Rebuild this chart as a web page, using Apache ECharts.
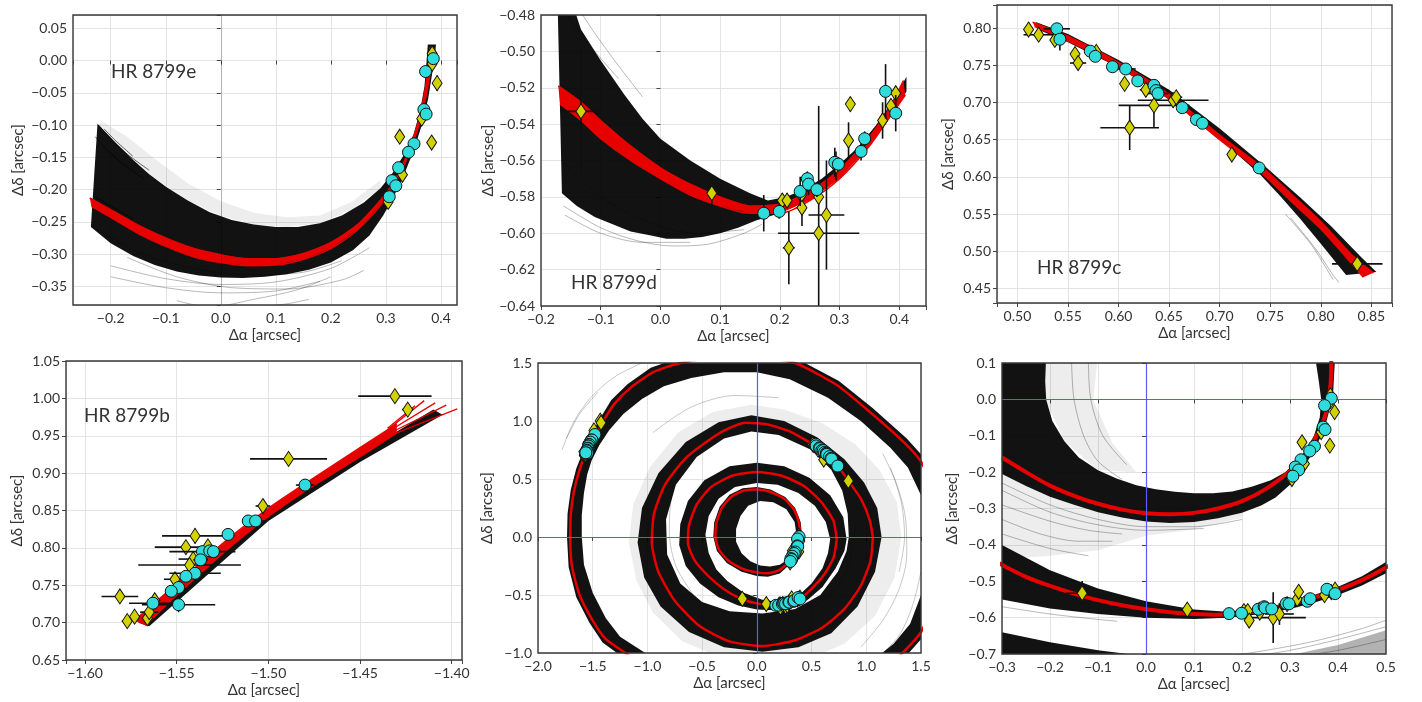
<!DOCTYPE html>
<html><head><meta charset="utf-8">
<script src="https://cdn.jsdelivr.net/npm/echarts@6/dist/echarts.min.js"></script>
<style>html,body{margin:0;padding:0;background:#fff}#c{width:1422px;height:702px}</style>
</head><body><div id="c"></div><script>
// ================= DATA =================
// measurements: [dRA, dDec, errRA, errDec]
const eCyan = [[0.386,0.003,0.004,0.004],[0.372,-0.017,0.008,0.003],[0.369,-0.076,0.003,0.003],[0.373,-0.083,0.003,0.003],[0.351,-0.129,0.004,0.004],[0.341,-0.142,0.008,0.004],[0.323,-0.166,0.003,0.004],[0.311,-0.186,0.003,0.003],[0.318,-0.194,0.003,0.003],[0.306,-0.211,0.003,0.003]];
const eYellow = [[0.384,0.011,0.003,0.005],[0.384,-0.005,0.003,0.005],[0.393,-0.035,0.003,0.012],[0.365,-0.090,0.003,0.004],[0.325,-0.118,0.006,0.008],[0.383,-0.127,0.005,0.006],[0.330,-0.177,0.004,0.005],[0.304,-0.219,0.003,0.004]];
const dCyan = [[0.173,-0.589,0.003,0.010],[0.199,-0.588,0.003,0.004],[0.234,-0.577,0.003,0.008],[0.246,-0.570,0.003,0.004],[0.248,-0.573,0.003,0.006],[0.262,-0.576,0.003,0.004],[0.292,-0.561,0.003,0.008],[0.298,-0.562,0.003,0.004],[0.336,-0.555,0.003,0.005],[0.342,-0.548,0.003,0.004],[0.377,-0.522,0.008,0.015],[0.394,-0.534,0.003,0.010]];
const dYellow = [[-0.133,-0.533,0.034,0.034],[0.086,-0.578,0.003,0.010],[0.204,-0.582,0.003,0.004],[0.212,-0.582,0.003,0.004],[0.215,-0.608,0.010,0.020],[0.236,-0.579,0.003,0.005],[0.237,-0.586,0.003,0.010],[0.265,-0.580,0.003,0.004],[0.265,-0.600,0.068,0.070],[0.278,-0.590,0.030,0.030],[0.294,-0.563,0.003,0.008],[0.315,-0.549,0.003,0.010],[0.318,-0.529,0.003,0.004],[0.372,-0.538,0.003,0.010],[0.386,-0.530,0.003,0.004],[0.394,-0.523,0.003,0.004]];
const cCyan = [[0.539,0.799,0.013,0.005],[0.542,0.785,0.004,0.015],[0.572,0.769,0.003,0.003],[0.577,0.762,0.003,0.003],[0.594,0.748,0.003,0.003],[0.607,0.745,0.010,0.004],[0.619,0.729,0.003,0.003],[0.635,0.723,0.003,0.004],[0.637,0.716,0.003,0.004],[0.639,0.712,0.010,0.004],[0.663,0.693,0.003,0.003],[0.677,0.677,0.003,0.003],[0.683,0.672,0.003,0.003],[0.739,0.612,0.003,0.003]];
const cYellow = [[0.511,0.798,0.003,0.004],[0.521,0.791,0.015,0.004],[0.537,0.784,0.004,0.004],[0.557,0.765,0.004,0.010],[0.560,0.753,0.008,0.004],[0.578,0.768,0.004,0.004],[0.606,0.725,0.003,0.004],[0.627,0.717,0.006,0.006],[0.635,0.696,0.035,0.030],[0.611,0.666,0.029,0.030],[0.654,0.703,0.035,0.010],[0.657,0.707,0.006,0.006],[0.712,0.630,0.003,0.004],[0.836,0.483,0.025,0.012]];
const bCyan = [[-1.480,0.884,0.005,0.003],[-1.511,0.836,0.003,0.003],[-1.507,0.836,0.006,0.003],[-1.522,0.818,0.003,0.003],[-1.536,0.795,0.018,0.004],[-1.532,0.796,0.003,0.003],[-1.530,0.795,0.004,0.003],[-1.537,0.784,0.004,0.004],[-1.540,0.766,0.014,0.008],[-1.545,0.762,0.003,0.003],[-1.549,0.747,0.003,0.003],[-1.553,0.742,0.003,0.003],[-1.549,0.724,0.020,0.010],[-1.563,0.726,0.013,0.004]];
const bYellow = [[-1.431,1.003,0.020,0.008],[-1.424,0.985,0.003,0.003],[-1.489,0.919,0.021,0.008],[-1.503,0.856,0.004,0.004],[-1.540,0.816,0.018,0.010],[-1.545,0.801,0.017,0.004],[-1.533,0.802,0.003,0.003],[-1.541,0.785,0.008,0.004],[-1.543,0.777,0.028,0.008],[-1.551,0.758,0.006,0.004],[-1.581,0.735,0.010,0.004],[-1.577,0.702,0.003,0.003],[-1.573,0.708,0.003,0.003],[-1.566,0.706,0.003,0.004],[-1.565,0.714,0.005,0.003],[-1.562,0.730,0.003,0.003]];

// ---- panel 1 (HR 8799e) orbit curves ----
const eBandUp = [[-0.224,-0.098],[-0.19,-0.128],[-0.159,-0.154],[-0.13,-0.176],[-0.099,-0.196],[-0.06,-0.217],[-0.02,-0.235],[0.02,-0.247],[0.06,-0.254],[0.10,-0.258],[0.14,-0.258],[0.18,-0.252],[0.22,-0.240],[0.26,-0.220],[0.29,-0.198],[0.31,-0.177],[0.33,-0.150],[0.35,-0.115],[0.362,-0.078],[0.370,-0.040],[0.374,0.000],[0.376,0.025]];
const eBandLo = [[-0.236,-0.258],[-0.2,-0.283],[-0.159,-0.303],[-0.12,-0.317],[-0.08,-0.327],[-0.04,-0.333],[0.0,-0.336],[0.04,-0.337],[0.08,-0.335],[0.12,-0.331],[0.16,-0.324],[0.20,-0.313],[0.24,-0.294],[0.27,-0.271],[0.295,-0.240],[0.312,-0.214],[0.33,-0.183],[0.35,-0.140],[0.366,-0.098],[0.377,-0.058],[0.384,-0.020],[0.388,0.000],[0.391,0.025]];
const eHaloUp = [[-0.212,-0.096],[-0.17,-0.118],[-0.12,-0.152],[-0.06,-0.19],[0.0,-0.218],[0.06,-0.236],[0.12,-0.243],[0.18,-0.240],[0.24,-0.218],[0.29,-0.185]];
const eHaloLo = [[-0.224,-0.098],[-0.19,-0.128],[-0.13,-0.176],[-0.06,-0.217],[0.0,-0.241],[0.06,-0.254],[0.12,-0.258],[0.18,-0.252],[0.24,-0.230],[0.29,-0.198]];
const eRedA = [[-0.238,-0.213],[-0.2,-0.231],[-0.15,-0.255],[-0.1,-0.275],[-0.05,-0.291],[0,-0.301],[0.05,-0.307],[0.1,-0.307],[0.15,-0.299],[0.2,-0.282],[0.25,-0.253],[0.3,-0.206],[0.325,-0.171],[0.345,-0.131],[0.36,-0.091],[0.37,-0.051],[0.377,-0.011],[0.38,0.020]];
const eRedB = [[-0.235,-0.226],[-0.2,-0.243],[-0.15,-0.268],[-0.1,-0.288],[-0.05,-0.304],[0,-0.313],[0.05,-0.318],[0.1,-0.317],[0.15,-0.308],[0.2,-0.291],[0.25,-0.261],[0.3,-0.214],[0.325,-0.177],[0.345,-0.137],[0.362,-0.094],[0.374,-0.050],[0.382,-0.010],[0.387,0.020]];
const eGrey = [
 [[-0.225,-0.26],[-0.15,-0.297],[-0.05,-0.322],[0.05,-0.332],[0.15,-0.328],[0.22,-0.31]],
 [[-0.2,-0.318],[-0.1,-0.338],[0.0,-0.347],[0.1,-0.343],[0.2,-0.322],[0.27,-0.29]],
 [[-0.2,-0.335],[-0.1,-0.352],[0.0,-0.36],[0.1,-0.357],[0.18,-0.342]],
 [[-0.17,-0.305],[-0.08,-0.335],[0.02,-0.352],[0.12,-0.354],[0.22,-0.34],[0.26,-0.325]],
 [[-0.08,-0.372],[-0.02,-0.382],[0.06,-0.37],[0.14,-0.355],[0.2,-0.335]],
 [[0.0,-0.39],[0.06,-0.383],[0.12,-0.377],[0.16,-0.37]]
];
const eFringe = [
 [[-0.222,-0.100],[-0.2,-0.121],[-0.17,-0.145],[-0.13,-0.17]],
 [[-0.212,-0.106],[-0.19,-0.125],[-0.16,-0.148]],
 [[-0.228,-0.118],[-0.205,-0.14],[-0.175,-0.162],[-0.14,-0.183]],
 [[-0.232,-0.21],[-0.2,-0.225],[-0.16,-0.245]]
];
// ---- panel 2 (HR 8799d) ----
const dBandUp = [[-0.172,-0.476],[-0.145,-0.476],[-0.133,-0.488],[-0.1,-0.505],[-0.06,-0.524],[-0.03,-0.537],[0.0,-0.548],[0.05,-0.560],[0.1,-0.570],[0.15,-0.578],[0.18,-0.582],[0.21,-0.580],[0.24,-0.576],[0.27,-0.570],[0.30,-0.562],[0.33,-0.553],[0.36,-0.541],[0.39,-0.527],[0.412,-0.514]];
const dBandLo = [[-0.165,-0.578],[-0.14,-0.585],[-0.11,-0.591],[-0.08,-0.595],[-0.05,-0.599],[-0.02,-0.601],[0.01,-0.603],[0.04,-0.603],[0.07,-0.602],[0.10,-0.600],[0.13,-0.597],[0.16,-0.593],[0.19,-0.590],[0.22,-0.586],[0.25,-0.580],[0.28,-0.573],[0.31,-0.565],[0.34,-0.555],[0.37,-0.543],[0.39,-0.533],[0.412,-0.522]];
const dRedA = [[-0.171,-0.519],[-0.133,-0.528],[-0.1,-0.538],[-0.05,-0.552],[0.0,-0.564],[0.05,-0.573],[0.1,-0.580],[0.15,-0.585],[0.2,-0.584],[0.25,-0.577],[0.3,-0.565],[0.35,-0.547],[0.38,-0.533],[0.407,-0.516]];
const dRedB = [[-0.168,-0.529],[-0.133,-0.538],[-0.1,-0.548],[-0.05,-0.560],[0.0,-0.570],[0.05,-0.579],[0.1,-0.585],[0.15,-0.589],[0.2,-0.589],[0.25,-0.582],[0.3,-0.570],[0.35,-0.552],[0.38,-0.538],[0.41,-0.524]];
const dGrey = [
 [[-0.175,-0.47],[-0.15,-0.483],[-0.11,-0.5],[-0.07,-0.515]],
 [[-0.14,-0.475],[-0.11,-0.49],[-0.07,-0.508],[-0.03,-0.525]],
 [[-0.162,-0.585],[-0.1,-0.597],[-0.04,-0.604],[0.02,-0.607],[0.08,-0.606],[0.14,-0.6],[0.17,-0.595]],
 [[-0.16,-0.59],[-0.1,-0.6],[-0.03,-0.605],[0.05,-0.605]],
 [[-0.165,-0.56],[-0.1,-0.58],[-0.02,-0.594],[0.06,-0.6],[0.14,-0.598]]
];
// ---- panel 3 (HR 8799c) ----
const cBandUp = [[0.518,0.808],[0.55,0.792],[0.6,0.757],[0.65,0.717],[0.7,0.665],[0.745,0.614],[0.78,0.572],[0.81,0.534],[0.84,0.492],[0.855,0.472]];
const cBandLo = [[0.522,0.797],[0.55,0.781],[0.6,0.747],[0.65,0.704],[0.7,0.651],[0.74,0.603],[0.76,0.574],[0.78,0.543],[0.80,0.51],[0.815,0.485],[0.825,0.468]];
const cRedA = [[0.515,0.808],[0.55,0.789],[0.6,0.754],[0.65,0.711],[0.7,0.656],[0.74,0.615],[0.77,0.578],[0.8,0.54],[0.83,0.496],[0.852,0.471]];
const cRedB = [[0.517,0.802],[0.55,0.783],[0.6,0.748],[0.65,0.705],[0.7,0.650],[0.74,0.607],[0.77,0.568],[0.8,0.530],[0.825,0.492],[0.842,0.465]];
const cGrey = [
 [[0.77,0.545],[0.795,0.503],[0.812,0.468],[0.818,0.458]],
 [[0.765,0.55],[0.79,0.51],[0.805,0.478],[0.812,0.462]]
];
// ---- panel 4 (HR 8799b) ----
const bBandUp = [[-1.571,0.700],[-1.5,0.848],[-1.45,0.926],[-1.41,0.985]];
const bBandLo = [[-1.565,0.695],[-1.5,0.836],[-1.45,0.915],[-1.405,0.978]];
const bRedA = [[-1.573,0.703],[-1.55,0.752],[-1.52,0.816],[-1.50,0.853],[-1.48,0.886],[-1.45,0.934],[-1.43,0.966]];
const bRedB = [[-1.567,0.696],[-1.55,0.737],[-1.52,0.803],[-1.50,0.842],[-1.48,0.876],[-1.45,0.922],[-1.43,0.954]];
const bRedTips = [
 [[-1.435,0.958],[-1.415,0.997]],
 [[-1.435,0.955],[-1.409,0.994]],
 [[-1.435,0.952],[-1.403,0.991]],
 [[-1.435,0.949],[-1.397,0.986]],
 [[-1.435,0.960],[-1.42,0.99]]
];
// ---- panel 5 (all orbits) closed loops ----
const e5Red = [[0.395,0.0],[0.385,0.12],[0.34,0.235],[0.25,0.33],[0.12,0.39],[0.0,0.41],[-0.12,0.40],[-0.23,0.35],[-0.32,0.25],[-0.37,0.12],[-0.378,0.0],[-0.345,-0.11],[-0.26,-0.205],[-0.13,-0.275],[0.0,-0.305],[0.1,-0.313],[0.2,-0.288],[0.3,-0.21],[0.36,-0.1],[0.395,0.0]];
const e5Out = [[0.415,0.0],[0.40,0.13],[0.35,0.25],[0.26,0.345],[0.125,0.41],[0.0,0.43],[-0.13,0.42],[-0.25,0.365],[-0.34,0.26],[-0.39,0.125],[-0.398,0.0],[-0.365,-0.12],[-0.275,-0.225],[-0.14,-0.3],[0.0,-0.337],[0.1,-0.342],[0.21,-0.315],[0.315,-0.225],[0.38,-0.1],[0.415,0.0]];
const e5In = [[0.365,0.0],[0.345,0.13],[0.27,0.24],[0.15,0.3],[0.03,0.31],[-0.08,0.27],[-0.15,0.18],[-0.19,0.07],[-0.19,-0.04],[-0.14,-0.14],[-0.06,-0.21],[0.03,-0.245],[0.12,-0.255],[0.21,-0.24],[0.29,-0.19],[0.34,-0.1],[0.365,0.0]];
const d5Red = [[0.73,-0.02],[0.70,0.14],[0.59,0.30],[0.43,0.44],[0.22,0.53],[0.0,0.56],[-0.22,0.53],[-0.42,0.43],[-0.55,0.28],[-0.62,0.10],[-0.63,-0.05],[-0.57,-0.20],[-0.45,-0.33],[-0.30,-0.45],[-0.15,-0.53],[0.0,-0.572],[0.17,-0.589],[0.3,-0.56],[0.4,-0.525],[0.49,-0.455],[0.61,-0.33],[0.70,-0.18],[0.73,-0.02]];
const d5Out = [[0.82,-0.02],[0.79,0.17],[0.67,0.36],[0.48,0.51],[0.25,0.61],[0.0,0.64],[-0.25,0.61],[-0.48,0.49],[-0.63,0.31],[-0.70,0.11],[-0.71,-0.07],[-0.65,-0.25],[-0.52,-0.40],[-0.35,-0.52],[-0.17,-0.59],[0.0,-0.625],[0.17,-0.632],[0.32,-0.605],[0.46,-0.545],[0.6,-0.43],[0.72,-0.27],[0.80,-0.12],[0.82,-0.02]];
const d5In = [[0.67,-0.02],[0.63,0.13],[0.53,0.27],[0.38,0.38],[0.19,0.45],[0.0,0.465],[-0.2,0.43],[-0.35,0.33],[-0.44,0.18],[-0.47,0.02],[-0.44,-0.14],[-0.37,-0.28],[-0.27,-0.38],[-0.12,-0.48],[0.05,-0.54],[0.2,-0.56],[0.3,-0.54],[0.4,-0.49],[0.5,-0.4],[0.6,-0.27],[0.65,-0.14],[0.67,-0.02]];
const c5Red = [[1.06,0.0],[1.03,0.15],[0.95,0.33],[0.84,0.48],[0.74,0.61],[0.6,0.75],[0.51,0.80],[0.3,0.91],[0.1,0.97],[-0.1,0.985],[-0.25,0.94],[-0.4,0.86],[-0.65,0.68],[-0.84,0.45],[-0.94,0.2],[-0.96,-0.05],[-0.9,-0.3],[-0.75,-0.55],[-0.52,-0.77],[-0.25,-0.9],[0.05,-0.94],[0.35,-0.89],[0.6,-0.78],[0.8,-0.62],[0.95,-0.42],[1.04,-0.2],[1.06,0.0]];
const c5Out = [[1.14,0.0],[1.1,0.25],[0.98,0.47],[0.8,0.67],[0.55,0.86],[0.25,1.0],[-0.05,1.05],[-0.35,0.99],[-0.65,0.82],[-0.9,0.55],[-1.05,0.25],[-1.09,-0.05],[-1.03,-0.35],[-0.88,-0.6],[-0.62,-0.82],[-0.3,-0.95],[0.05,-0.99],[0.38,-0.95],[0.68,-0.83],[0.92,-0.6],[1.08,-0.3],[1.14,0.0]];
const c5In = [[0.84,0.0],[0.83,0.2],[0.78,0.4],[0.68,0.58],[0.5,0.75],[0.2,0.88],[-0.05,0.91],[-0.3,0.85],[-0.55,0.69],[-0.74,0.45],[-0.83,0.15],[-0.82,-0.15],[-0.7,-0.4],[-0.5,-0.56],[-0.25,-0.64],[0.05,-0.66],[0.35,-0.62],[0.58,-0.5],[0.74,-0.3],[0.82,-0.12],[0.84,0.0]];
const c5Halo = [[1.32,0.0],[1.28,0.3],[1.12,0.58],[0.9,0.8],[0.6,0.98],[0.25,1.1],[-0.05,1.14],[-0.4,1.08],[-0.72,0.9],[-0.98,0.6],[-1.13,0.28],[-1.17,-0.05],[-1.1,-0.38],[-0.95,-0.65],[-0.68,-0.9],[-0.3,-1.05],[0.05,-1.1],[0.45,-1.06],[0.8,-0.92],[1.08,-0.68],[1.26,-0.35],[1.32,0.0]];
const b5Red = [[1.71,-0.15],[1.70,0.12],[1.62,0.4],[1.5,0.65],[1.34,0.82],[1.03,1.08],[0.73,1.31],[0.35,1.5],[0.0,1.55],[-0.35,1.55],[-0.7,1.5],[-0.95,1.42],[-1.15,1.29],[-1.3,1.15],[-1.41,0.99],[-1.49,0.85],[-1.571,0.70],[-1.62,0.58],[-1.67,0.4],[-1.70,0.2],[-1.705,0.0],[-1.69,-0.25],[-1.62,-0.5],[-1.5,-0.72],[-1.38,-0.88],[-1.2,-1.0],[-0.9,-1.2],[-0.5,-1.38],[0.0,-1.45],[0.5,-1.4],[0.9,-1.27],[1.15,-1.13],[1.33,-1.0],[1.5,-0.82],[1.64,-0.5],[1.71,-0.15]];
const b5Out = [[1.75,-0.15],[1.74,0.13],[1.66,0.42],[1.54,0.67],[1.37,0.85],[1.06,1.11],[0.75,1.345],[0.36,1.54],[0.0,1.6],[-0.36,1.6],[-0.72,1.54],[-0.97,1.46],[-1.18,1.32],[-1.33,1.18],[-1.44,1.01],[-1.52,0.87],[-1.6,0.71],[-1.65,0.59],[-1.70,0.41],[-1.73,0.2],[-1.735,0.0],[-1.72,-0.26],[-1.65,-0.52],[-1.53,-0.74],[-1.41,-0.91],[-1.22,-1.04],[-0.92,-1.24],[-0.5,-1.42],[0.0,-1.49],[0.5,-1.44],[0.92,-1.31],[1.18,-1.16],[1.36,-1.03],[1.54,-0.84],[1.68,-0.51],[1.75,-0.15]];
const b5In = [[1.58,-0.15],[1.57,0.1],[1.5,0.36],[1.38,0.6],[1.22,0.77],[0.95,1.0],[0.65,1.2],[0.3,1.36],[0.0,1.42],[-0.3,1.42],[-0.6,1.37],[-0.85,1.3],[-1.05,1.19],[-1.22,1.06],[-1.35,0.92],[-1.44,0.79],[-1.51,0.66],[-1.55,0.54],[-1.58,0.38],[-1.6,0.19],[-1.6,0.0],[-1.58,-0.24],[-1.5,-0.48],[-1.38,-0.7],[-1.25,-0.86],[-1.02,-1.0],[-0.75,-1.17],[-0.4,-1.3],[0.0,-1.36],[0.45,-1.31],[0.85,-1.18],[1.08,-1.05],[1.25,-0.92],[1.4,-0.75],[1.52,-0.45],[1.58,-0.15]];
const grey5 = [
 [[-1.78,0.75],[-1.68,0.98],[-1.52,1.2],[-1.3,1.38],[-1.05,1.5]],
 [[-1.74,0.85],[-1.62,1.06],[-1.45,1.25]],
 [[1.15,0.72],[1.28,0.45],[1.36,0.15],[1.37,-0.15],[1.3,-0.45],[1.15,-0.72],[0.95,-0.95]],
 [[1.22,0.6],[1.32,0.3],[1.35,0.0],[1.3,-0.3]],
 [[0.2,1.2],[-0.2,1.22],[-0.6,1.12],[-0.95,0.9]],
 [[-0.7,0.6],[-0.78,0.35],[-0.8,0.05],[-0.74,-0.25],[-0.58,-0.5]],
 [[1.5,-0.3],[1.42,-0.6],[1.3,-0.85],[1.15,-1.0]],
 [[0.9,0.1],[0.85,-0.2],[0.72,-0.45],[0.5,-0.62]]
];
// ---- panel 6 (zoom on e and d) ----
const e6In = [[-0.208,0.12],[-0.21,0.05],[-0.208,0.0],[-0.195,-0.06],[-0.17,-0.115],[-0.14,-0.16],[-0.1,-0.195],[-0.06,-0.218],[-0.02,-0.236],[0.02,-0.247],[0.06,-0.254],[0.1,-0.258],[0.14,-0.258],[0.18,-0.253],[0.22,-0.24],[0.26,-0.222],[0.29,-0.2],[0.31,-0.175],[0.33,-0.145],[0.35,-0.1],[0.362,-0.05],[0.365,0.0],[0.36,0.05],[0.352,0.12]];
const e6Out = [[-0.35,0.12],[-0.35,-0.18],[-0.3,-0.205],[-0.25,-0.238],[-0.2,-0.268],[-0.15,-0.29],[-0.1,-0.31],[-0.05,-0.325],[0.0,-0.336],[0.05,-0.34],[0.1,-0.337],[0.15,-0.327],[0.2,-0.312],[0.24,-0.292],[0.27,-0.27],[0.3,-0.235],[0.33,-0.185],[0.35,-0.14],[0.365,-0.1],[0.376,-0.06],[0.384,-0.02],[0.39,0.02],[0.394,0.12]];
const e6HaloInUp = [[-0.21,0.12],[-0.21,0.0],[-0.17,-0.115],[-0.1,-0.195]];
const e6HaloInLo = [[-0.1,0.12],[-0.11,0.0],[-0.07,-0.12],[-0.02,-0.2]];
const e6HaloOutUp = [[-0.35,-0.18],[-0.3,-0.205],[-0.2,-0.268],[-0.1,-0.31],[0.0,-0.336],[0.1,-0.337],[0.2,-0.312]];
const e6HaloOutLo = [[-0.35,-0.46],[-0.3,-0.44],[-0.2,-0.43],[-0.1,-0.415],[0.0,-0.375],[0.1,-0.358],[0.2,-0.325]];
const e6Red = [[-0.3,-0.16],[-0.25,-0.2],[-0.2,-0.237],[-0.15,-0.265],[-0.1,-0.287],[-0.05,-0.303],[0.0,-0.313],[0.05,-0.316],[0.1,-0.312],[0.15,-0.3],[0.2,-0.28],[0.25,-0.246],[0.3,-0.197],[0.33,-0.157],[0.355,-0.1],[0.372,-0.05],[0.38,0.0],[0.385,0.05],[0.386,0.12]];
const d6Up = [[-0.35,-0.37],[-0.3,-0.40],[-0.2,-0.47],[-0.1,-0.52],[0.0,-0.555],[0.1,-0.578],[0.17,-0.584],[0.25,-0.572],[0.3,-0.557],[0.35,-0.538],[0.4,-0.515],[0.45,-0.486],[0.5,-0.447],[0.55,-0.40]];
const d6Lo = [[-0.35,-0.53],[-0.3,-0.55],[-0.2,-0.575],[-0.1,-0.59],[0.0,-0.6],[0.1,-0.604],[0.17,-0.6],[0.25,-0.589],[0.3,-0.576],[0.35,-0.559],[0.4,-0.538],[0.45,-0.512],[0.5,-0.478],[0.55,-0.44]];
const d6Red = [[-0.35,-0.42],[-0.3,-0.455],[-0.25,-0.488],[-0.2,-0.513],[-0.15,-0.534],[-0.1,-0.552],[-0.05,-0.566],[0.0,-0.577],[0.05,-0.585],[0.1,-0.59],[0.15,-0.592],[0.2,-0.588],[0.25,-0.578],[0.3,-0.563],[0.35,-0.545],[0.4,-0.524],[0.45,-0.497],[0.5,-0.462],[0.55,-0.42]];
const c6Up = [[-0.35,-0.63],[-0.3,-0.64],[-0.2,-0.668],[-0.1,-0.69],[0.0,-0.706]];
const c6Lo = [[-0.35,-0.75],[0.0,-0.75]];
const c6FaintUp = [[0.25,-0.71],[0.3,-0.703],[0.4,-0.675],[0.5,-0.635],[0.55,-0.61]];
const c6FaintLo = [[0.25,-0.75],[0.55,-0.75]];
const grey6 = [
 [[-0.3,-0.23],[-0.2,-0.29],[-0.1,-0.33],[0.0,-0.35],[0.1,-0.35],[0.2,-0.33]],
 [[-0.3,-0.25],[-0.2,-0.31],[-0.1,-0.345],[0.0,-0.36],[0.12,-0.355]],
 [[-0.3,-0.29],[-0.2,-0.335],[-0.12,-0.36],[-0.05,-0.37]],
 [[-0.3,-0.33],[-0.22,-0.37],[-0.14,-0.39],[-0.07,-0.39]],
 [[-0.3,-0.37],[-0.2,-0.41],[-0.12,-0.43]],
 [[-0.05,-0.22],[-0.1,-0.17],[-0.13,-0.1],[-0.15,0.0],[-0.155,0.1]],
 [[-0.04,-0.18],[-0.09,-0.1],[-0.115,0.0],[-0.12,0.1]],
 [[-0.3,-0.57],[-0.2,-0.59],[-0.1,-0.605],[-0.06,-0.61]],
 [[0.15,-0.71],[0.25,-0.69],[0.35,-0.665],[0.45,-0.63],[0.5,-0.607]],
 [[0.2,-0.71],[0.3,-0.69],[0.4,-0.66],[0.5,-0.625]],
 [[0.3,-0.71],[0.4,-0.69],[0.5,-0.66]]
];
const zeroRef = [0];
const labels = ['HR 8799e','HR 8799d','HR 8799c','HR 8799b'];

// ================= STYLE / LAYOUT =================
const FONT = 'Lato, "DejaVu Sans", sans-serif';
const TXT = '#333';
const RED = '#e60000', BLACK = 'rgba(0,0,0,0.93)', CYAN = '#2edcdc', YEL = '#d2d200', BLUE = '#5a5aff';
const HALO = 'rgba(0,0,0,0.07)';
const panels = [
 {grid:{left:73,top:15,width:384,height:290}, x:[-0.2685,0.4291,0.1,1], y:[-0.3788,0.0706,0.05,2], yGap:47},
 {grid:{left:541,top:15,width:385,height:291}, x:[-0.2,0.4447,0.1,1], y:[-0.64,-0.48,0.02,2], yGap:45},
 {grid:{left:997,top:5,width:395,height:298}, x:[0.4798,0.8704,0.05,2], y:[0.4304,0.831,0.05,2], yGap:41},
 {grid:{left:66,top:361,width:396,height:299}, x:[-1.6104,-1.3944,0.05,2], y:[0.65,1.05,0.05,2], yGap:41},
 {grid:{left:538,top:363,width:383,height:290}, x:[-2,1.5,0.5,1], y:[-1,1.5,0.5,1], yGap:43},
 {grid:{left:1002,top:363,width:384,height:291}, x:[-0.3,0.5,0.1,1], y:[-0.7,0.1,0.1,1], yGap:42}
];
const titlePos = [[111,62],[571,273],[1037,258],[84,406]];

function fmt(v, step, dec){
  const k = v/step;
  if (Math.abs(k-Math.round(k))>1e-6) return '';
  const s = (Math.abs(v)<1e-9?0:v).toFixed(dec);
  return s.replace('-','\u2212');
}
function axis(gi, r, isX, gap){
  const [min,max,step,dec] = r;
  return {
    type:'value', gridIndex:gi, min, max, minInterval:step, maxInterval:step,
    splitNumber: Math.round((max-min)/step),
    name: isX ? '\u0394\u03b1 [arcsec]' : '\u0394\u03b4 [arcsec]',
    nameLocation:'middle', nameGap: isX ? 23 : gap,
    nameTextStyle:{fontFamily:FONT,fontSize:15,color:TXT},
    axisLine:{show:false},
    axisTick:{show:true,inside:false,length:4,lineStyle:{color:'#444',width:1}},
    axisLabel:{fontFamily:FONT,fontSize:14,color:TXT,margin:6,formatter:v=>fmt(v,step,dec)},
    splitLine:{show:true,lineStyle:{color:'#e3e3e3',width:1}}
  };
}

const S = [];
function poly(gi, pts, fill, z){
  S.push({type:'custom', xAxisIndex:gi, yAxisIndex:gi, clip:true, silent:true, z, animation:false,
    data:[pts[0]],
    renderItem:(p,api)=>({type:'polygon', shape:{points:pts.map(q=>api.coord(q))}, style:{fill}})});
}
function band(gi, up, lo, fill, z){ poly(gi, up.concat(lo.slice().reverse()), fill, z); }
function line(gi, pts, color, width, z, smooth){
  S.push({type:'line', xAxisIndex:gi, yAxisIndex:gi, data:pts, showSymbol:false, symbol:'none',
    smooth: smooth==null?0.3:smooth, lineStyle:{color,width}, itemStyle:{color}, silent:true, z, animation:false, clip:true});
}
function errbars(gi, pts, z){
  S.push({type:'custom', xAxisIndex:gi, yAxisIndex:gi, clip:true, silent:true, z, animation:false,
    dimensions:['x','y','ex','ey'], encode:{x:0,y:1}, data:pts,
    renderItem:(p,api)=>{
      const x=api.value(0), y=api.value(1), ex=api.value(2), ey=api.value(3);
      const a=api.coord([x-ex,y]), b=api.coord([x+ex,y]), c=api.coord([x,y-ey]), d=api.coord([x,y+ey]);
      const st={stroke:'#111', lineWidth:1.6};
      return {type:'group', children:[
        {type:'line', shape:{x1:a[0],y1:a[1],x2:b[0],y2:b[1]}, style:st},
        {type:'line', shape:{x1:c[0],y1:c[1],x2:d[0],y2:d[1]}, style:st}]};
    }});
}
function markers(gi, pts, cyan, z){
  S.push({type:'scatter', xAxisIndex:gi, yAxisIndex:gi, data:pts, encode:{x:0,y:1}, z, silent:true, animation:false, clip:true,
    symbol: cyan?'circle':'diamond', symbolSize: cyan?12:[10,15],
    itemStyle:{color: cyan?CYAN:YEL, borderColor:'#111', borderWidth:1, opacity:1}});
}
function zeroLines(gi, color, both, width){
  zeroRef.forEach(v=>{
    const ls = {color, width: width||1, type:'solid', opacity:1};
    const d = [{xAxis:v, lineStyle:ls}];
    if (both) d.push({yAxis:v, lineStyle:ls});
    S.push({type:'line', xAxisIndex:gi, yAxisIndex:gi, data:[], z:2, silent:true, animation:false,
      color: color, lineStyle:{color},
      markLine:{silent:true, symbol:'none', label:{show:false}, animation:false, precision:6,
        lineStyle:ls, data:d}});
  });
}
function data(gi, sets, z){
  sets.forEach(([cy,ye])=>{ errbars(gi, ye, z); markers(gi, ye, false, z+1); });
  sets.forEach(([cy,ye])=>{ errbars(gi, cy, z+2); markers(gi, cy, true, z+3); });
}

// panel 1
zeroLines(0,'rgba(0,0,0,0.22)',false);
eGrey.forEach(g=>line(0,g,'rgba(0,0,0,0.28)',1,2));
band(0,eHaloUp,eHaloLo,HALO,2);
band(0,eBandUp,eBandLo,BLACK,3);
eFringe.forEach(g=>line(0,g,'rgba(0,0,0,0.6)',1,3));
band(0,eRedA,eRedB,RED,4); line(0,eRedA,RED,1.5,4); line(0,eRedB,RED,1.5,4);
data(0,[[eCyan,eYellow]],5);
// panel 2
dGrey.forEach(g=>line(1,g,'rgba(0,0,0,0.28)',1,2));
band(1,dBandUp,dBandLo,BLACK,3);
band(1,dRedA,dRedB,RED,4); line(1,dRedA,RED,1.5,4); line(1,dRedB,RED,1.5,4);
data(1,[[dCyan,dYellow]],5);
// panel 3
cGrey.forEach(g=>line(2,g,'rgba(0,0,0,0.3)',1,2));
band(2,cBandUp,cBandLo,BLACK,3);
band(2,cRedA,cRedB,RED,4); line(2,cRedA,RED,1.5,4); line(2,cRedB,RED,1.5,4);
data(2,[[cCyan,cYellow]],5);
// panel 4
band(3,bBandUp,bBandLo,BLACK,3);
band(3,bRedA,bRedB,RED,4); line(3,bRedA,RED,1.5,4); line(3,bRedB,RED,1.5,4);
bRedTips.forEach(g=>line(3,g,RED,1.3,4,0));
data(3,[[bCyan,bYellow]],5);
// panel 5
zeroLines(4,BLUE,true,1.2);
grey5.forEach(g=>line(4,g,'rgba(0,0,0,0.22)',1,2));
band(4,c5Halo,c5Out,HALO,2);
band(4,b5Out,b5In,BLACK,3);
band(4,c5Out,c5In,BLACK,3);
band(4,d5Out,d5In,BLACK,3);
band(4,e5Out,e5In,BLACK,3);
[b5Red,c5Red,d5Red,e5Red].forEach(r=>line(4,r,RED,2.5,4,0.2));
data(4,[[bCyan,bYellow],[cCyan,cYellow],[dCyan,dYellow],[eCyan,eYellow]],5);
// panel 6
zeroLines(5,BLUE,true,1.2);
grey6.forEach(g=>line(5,g,'rgba(0,0,0,0.28)',1,2));
band(5,e6HaloInUp,e6HaloInLo,HALO,2);
band(5,e6HaloOutUp,e6HaloOutLo,HALO,2);
band(5,c6FaintUp,c6FaintLo,'rgba(0,0,0,0.3)',3);
band(5,c6Up,c6Lo,BLACK,3);
band(5,e6In,e6Out,BLACK,3);
band(5,d6Up,d6Lo,BLACK,3);
line(5,e6Red,RED,4,4); line(5,d6Red,RED,4,4);
data(5,[[dCyan,dYellow],[eCyan,eYellow]],5);

const option = {
  animation:false,
  backgroundColor:'#fff',
  title: labels.map((t,i)=>({text:t, left:titlePos[i][0], top:titlePos[i][1], padding:0,
    textStyle:{fontFamily:FONT,fontSize:19,fontWeight:'normal',color:TXT}})),
  grid: panels.map(p=>Object.assign({show:true, borderColor:'#383838', borderWidth:1.4, backgroundColor:'transparent', containLabel:false, z:10}, p.grid)),
  xAxis: panels.map((p,i)=>axis(i,p.x,true)),
  yAxis: panels.map((p,i)=>axis(i,p.y,false,p.yGap)),
  series: S
};
const chart = echarts.init(document.getElementById('c'), null, {renderer:'canvas'});
chart.setOption(option);
</script></body></html>
